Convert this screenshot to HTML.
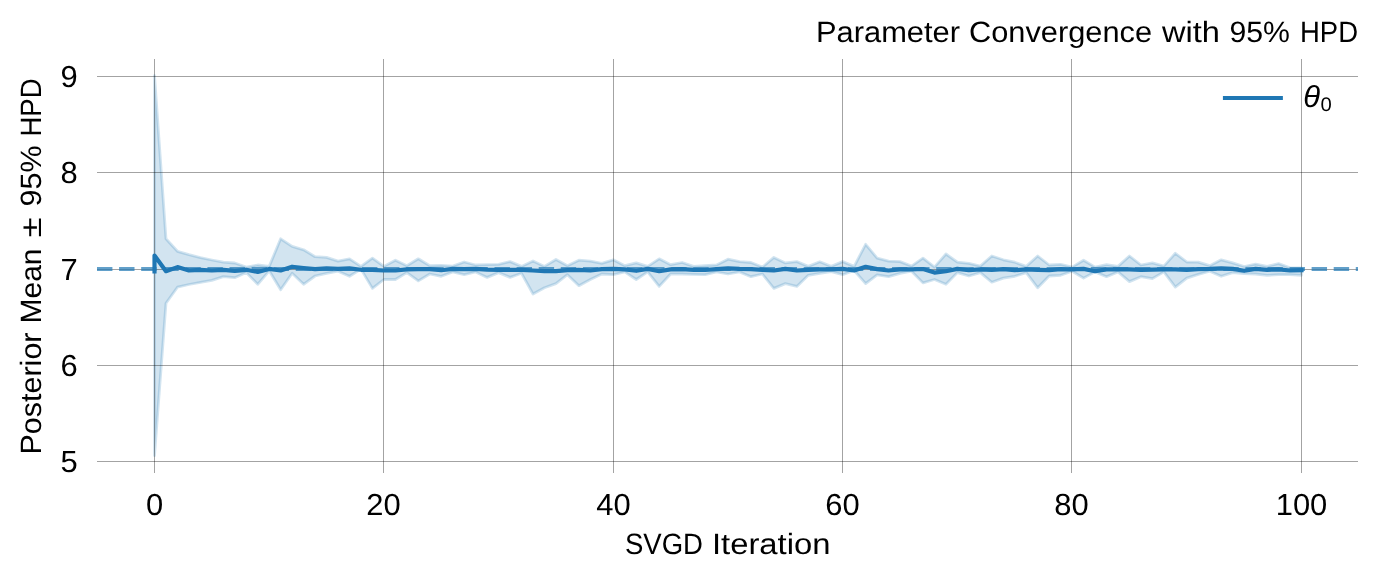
<!DOCTYPE html>
<html><head><meta charset="utf-8"><style>
html,body{margin:0;padding:0;background:#fff;}
svg{display:block;will-change:transform;}
text{font-family:"Liberation Sans",sans-serif;font-size:29.4px;fill:#000;text-rendering:geometricPrecision;}
.tk{font-size:30.4px;}
</style></head><body>
<svg width="1378" height="580" viewBox="0 0 1378 580">
<rect width="1378" height="580" fill="#fff"/>
<polygon points="154.5,75.7 165.97,238.7 177.44,251.3 188.91,254.7 200.38,257.6 211.85,260 223.32,262.2 234.79,263 246.26,267.1 257.73,265 269.2,266.4 280.67,238.8 292.14,246.4 303.61,249.8 315.08,256.7 326.55,257.4 338.02,261.1 349.49,258.8 360.96,266.4 372.43,258.1 383.9,266.4 395.37,260.2 406.84,265.7 418.31,258.8 429.78,265.7 441.25,265.3 452.72,266.1 464.19,262 475.66,265 487.13,264.6 498.6,264.3 510.07,261.6 521.54,266.4 533.01,260.9 544.48,266.4 555.95,259.5 567.42,265.7 578.89,260.2 590.36,261.1 601.83,263.3 613.3,259.8 624.77,265.7 636.24,262.9 647.71,266.4 659.18,258.8 670.65,264.7 682.12,262.5 693.59,266.4 705.06,265.7 716.53,265 728,259.2 739.47,261.6 750.94,262.5 762.41,267.1 773.88,257.4 785.35,262.9 796.82,261.6 808.29,266.4 819.76,261.8 831.23,266.4 842.7,261.6 854.17,266.4 865.64,244.3 877.11,258.1 888.58,261.1 900.05,261.6 911.52,266.1 922.99,258.1 934.46,267.1 945.93,254 957.4,262.2 968.87,263.3 980.34,266.1 991.81,256 1003.28,259.8 1014.75,262.2 1026.22,266.4 1037.69,256 1049.16,265 1060.63,264.3 1072.1,267.1 1083.57,260.2 1095.04,267.1 1106.51,264.7 1117.98,266.4 1129.45,256 1140.92,265 1152.39,262.9 1163.86,266.1 1175.33,253.3 1186.8,262 1198.27,262.2 1209.74,265.7 1221.21,259.8 1232.68,262.9 1244.15,266.5 1255.62,264.1 1267.09,266.4 1278.56,263.6 1290.03,267.8 1301.5,267.8 1301.5,275.3 1290.03,274.7 1278.56,274.7 1267.09,275.3 1255.62,274 1244.15,273.6 1232.68,272.6 1221.21,276.3 1209.74,271.2 1198.27,274.4 1186.8,278.1 1175.33,287.1 1163.86,271.9 1152.39,278.6 1140.92,276.7 1129.45,281.6 1117.98,271.9 1106.51,276.7 1095.04,271.9 1083.57,278.1 1072.1,271.2 1060.63,275.3 1049.16,276 1037.69,287.8 1026.22,272.6 1014.75,276.3 1003.28,278.1 991.81,282.2 980.34,272.6 968.87,276 957.4,272.6 945.93,284.3 934.46,279.5 922.99,282.9 911.52,271.2 900.05,273.3 888.58,276.7 877.11,274.9 865.64,283.6 854.17,270.5 842.7,274.7 831.23,271.6 819.76,273.3 808.29,275.3 796.82,286.4 785.35,283.6 773.88,288.4 762.41,274 750.94,276.7 739.47,271.9 728,274 716.53,271.9 705.06,274.7 693.59,274.4 682.12,274 670.65,274 659.18,286.4 647.71,271.9 636.24,279.5 624.77,271.9 613.3,274.7 601.83,274 590.36,279.5 578.89,285.7 567.42,274.7 555.95,283.6 544.48,287.8 533.01,294 521.54,273.3 510.07,277.4 498.6,272.6 487.13,277.4 475.66,271.9 464.19,274.7 452.72,271.9 441.25,276.3 429.78,274 418.31,280.9 406.84,272.6 395.37,279.5 383.9,279.5 372.43,288.4 360.96,269.1 349.49,276.3 338.02,271.2 326.55,273.3 315.08,276 303.61,284.3 292.14,273.3 280.67,289.8 269.2,270.8 257.73,284.3 246.26,272.6 234.79,277.7 223.32,276.7 211.85,280.3 200.38,282.4 188.91,284.5 177.44,287.2 165.97,303.3 154.5,455.6" fill="#1f77b4" fill-opacity="0.2" stroke="#1f77b4" stroke-opacity="0.2" stroke-width="2.78" stroke-linejoin="round"/>
<g stroke="#000" stroke-opacity="0.36" stroke-width="1" shape-rendering="crispEdges">
<line x1="154.5" y1="59" x2="154.5" y2="473"/>
<line x1="383.5" y1="59" x2="383.5" y2="473"/>
<line x1="613.5" y1="59" x2="613.5" y2="473"/>
<line x1="842.5" y1="59" x2="842.5" y2="473"/>
<line x1="1071.5" y1="59" x2="1071.5" y2="473"/>
<line x1="1301.5" y1="59" x2="1301.5" y2="473"/>
<line x1="97" y1="76.5" x2="1358" y2="76.5"/>
<line x1="97" y1="172.5" x2="1358" y2="172.5"/>
<line x1="97" y1="269.5" x2="1358" y2="269.5"/>
<line x1="97" y1="365.5" x2="1358" y2="365.5"/>
<line x1="97" y1="461.5" x2="1358" y2="461.5"/>
</g>
<line x1="97" y1="269" x2="1358" y2="269" stroke="#1f77b4" stroke-opacity="0.7" stroke-width="4.17" stroke-dasharray="15.417 6.667"/>
<polyline points="154.5,271.5 154.5,255.6 165.97,271.2 177.44,267.1 188.91,270.5 200.38,269.8 211.85,270.5 223.32,269.8 234.79,270.8 246.26,269.8 257.73,271.9 269.2,268.9 280.67,270.5 292.14,266.7 303.61,268 315.08,269.1 326.55,268.4 338.02,268.9 349.49,268.4 360.96,269.8 372.43,269.8 383.9,270.5 395.37,270.5 406.84,269.4 418.31,269.1 429.78,269.1 441.25,270.2 452.72,268.9 464.19,269.1 475.66,268.9 487.13,269.6 498.6,269.8 510.07,269.8 521.54,269.8 533.01,270.5 544.48,271.2 555.95,271.2 567.42,270.2 578.89,269.8 590.36,270.5 601.83,269.1 613.3,268.9 624.77,269.4 636.24,270.8 647.71,268.9 659.18,271.2 670.65,269.4 682.12,269.1 693.59,269.8 705.06,270 716.53,269.1 728,268.4 739.47,268.9 750.94,269.1 762.41,269.8 773.88,270.5 785.35,268.9 796.82,270.5 808.29,269.8 819.76,269.3 831.23,269.4 842.7,268.9 854.17,270.5 865.64,266.8 877.11,269.1 888.58,270.5 900.05,269.4 911.52,269.4 922.99,269 934.46,272.6 945.93,271.2 957.4,268.9 968.87,270.2 980.34,269.4 991.81,269.8 1003.28,269.1 1014.75,270.2 1026.22,269.4 1037.69,269.8 1049.16,270.2 1060.63,269.1 1072.1,269.4 1083.57,268.9 1095.04,271.2 1106.51,269.4 1117.98,269.4 1129.45,269.4 1140.92,269.8 1152.39,269.6 1163.86,269.4 1175.33,269.4 1186.8,269.8 1198.27,269.1 1209.74,268.9 1221.21,268.4 1232.68,268.9 1244.15,270.8 1255.62,268.9 1267.09,269.8 1278.56,269.4 1290.03,270.5 1301.5,270.2" fill="none" stroke="#1f77b4" stroke-width="4.17" stroke-linejoin="round" stroke-linecap="square"/>
<line x1="1225" y1="98" x2="1280.8" y2="98" stroke="#1f77b4" stroke-width="4.17" stroke-linecap="square"/>
<text x="1303.2" y="107.1" style="font-style:italic;font-size:30.4px" textLength="16.8" lengthAdjust="spacingAndGlyphs">θ</text><text x="1320.6" y="110.6" style="font-size:19.6px" textLength="11.3" lengthAdjust="spacingAndGlyphs">0</text>
<text x="60.4" y="87.1" textLength="17.2" lengthAdjust="spacingAndGlyphs" class="tk">9</text>
<text x="60.4" y="183.1" textLength="17.2" lengthAdjust="spacingAndGlyphs" class="tk">8</text>
<text x="60.4" y="280.1" textLength="17.2" lengthAdjust="spacingAndGlyphs" class="tk">7</text>
<text x="60.4" y="376.1" textLength="17.2" lengthAdjust="spacingAndGlyphs" class="tk">6</text>
<text x="60.4" y="472.1" textLength="17.2" lengthAdjust="spacingAndGlyphs" class="tk">5</text>
<text x="145.9" y="514.9" textLength="17.2" lengthAdjust="spacingAndGlyphs" class="tk">0</text>
<text x="366.3" y="514.9" textLength="34.4" lengthAdjust="spacingAndGlyphs" class="tk">20</text>
<text x="596.3" y="514.9" textLength="34.4" lengthAdjust="spacingAndGlyphs" class="tk">40</text>
<text x="825.3" y="514.9" textLength="34.4" lengthAdjust="spacingAndGlyphs" class="tk">60</text>
<text x="1054.3" y="514.9" textLength="34.4" lengthAdjust="spacingAndGlyphs" class="tk">80</text>
<text x="1275.7" y="514.9" textLength="51.6" lengthAdjust="spacingAndGlyphs" class="tk">100</text>
<text x="816" y="41.8" textLength="144" lengthAdjust="spacingAndGlyphs">Parameter</text>
<text x="969" y="41.8" textLength="183" lengthAdjust="spacingAndGlyphs">Convergence</text>
<text x="1162" y="41.8" textLength="58" lengthAdjust="spacingAndGlyphs">with</text>
<text x="1229.48" y="41.8" textLength="60.52" lengthAdjust="spacingAndGlyphs">95%</text>
<text x="1299.96" y="41.8" textLength="58.06" lengthAdjust="spacingAndGlyphs">HPD</text>
<text x="625" y="554" textLength="78" lengthAdjust="spacingAndGlyphs">SVGD</text>
<text x="711.92" y="554" textLength="118.63" lengthAdjust="spacingAndGlyphs">Iteration</text>
<text transform="translate(41.2,136.59) rotate(-90)" textLength="58.15" lengthAdjust="spacingAndGlyphs">HPD</text>
<text transform="translate(41.2,206.5) rotate(-90)" textLength="61" lengthAdjust="spacingAndGlyphs">95%</text>
<text transform="translate(41.2,237.53) rotate(-90)" textLength="20.06" lengthAdjust="spacingAndGlyphs">±</text>
<text transform="translate(41.2,323.57) rotate(-90)" textLength="75.12" lengthAdjust="spacingAndGlyphs">Mean</text>
<text transform="translate(41.2,454.52) rotate(-90)" textLength="122.03" lengthAdjust="spacingAndGlyphs">Posterior</text>
</svg>
</body></html>
